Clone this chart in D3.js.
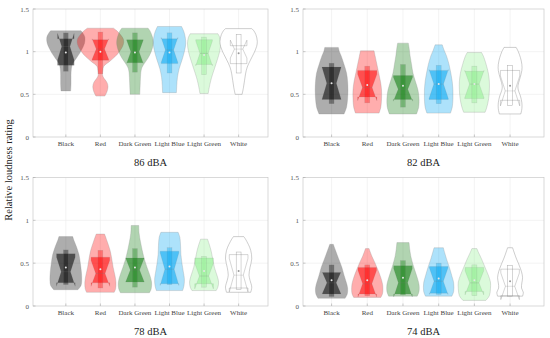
<!DOCTYPE html>
<html>
<head>
<meta charset="utf-8">
<script src="https://cdn.jsdelivr.net/npm/d3@7"></script>
<style>
  body { margin: 0; background: #fff; }
  svg text { font-family: "Liberation Serif", "Times New Roman", serif; }
</style>
</head>
<body>
<div id="chart"></div>
<script>
const categories = ['Black', 'Red', 'Dark Green', 'Light Blue', 'Light Green', 'White'];
const panelTitles = ['86 dBA', '82 dBA', '78 dBA', '74 dBA'];
const yTicks = [0, 0.5, 1, 1.5];
const yLabel = 'Relative loudness rating';

// violin outlines, bottom to top: [rating, half width in category units]
const violin86 = [
  [[0.54, 0.14], [0.62, 0.15], [0.72, 0.15], [0.8, 0.16], [0.86, 0.2], [0.92, 0.3], [0.98, 0.4], [1.04, 0.48], [1.1, 0.54], [1.17, 0.55], [1.22, 0.49], [1.245, 0.44]],
  [[0.48, 0.13], [0.53, 0.19], [0.59, 0.22], [0.64, 0.19], [0.69, 0.1], [0.73, 0.06], [0.78, 0.07], [0.83, 0.1], [0.88, 0.25], [0.94, 0.42], [1.0, 0.55], [1.08, 0.66], [1.14, 0.67], [1.2, 0.58], [1.25, 0.46], [1.275, 0.38]],
  [[0.5, 0.14], [0.6, 0.15], [0.7, 0.16], [0.8, 0.19], [0.86, 0.27], [0.92, 0.37], [1.0, 0.47], [1.1, 0.53], [1.18, 0.5], [1.24, 0.44], [1.275, 0.38]],
  [[0.52, 0.2], [0.6, 0.21], [0.7, 0.23], [0.8, 0.28], [0.9, 0.36], [1.0, 0.43], [1.1, 0.47], [1.2, 0.44], [1.25, 0.4], [1.295, 0.35]],
  [[0.51, 0.12], [0.56, 0.14], [0.62, 0.17], [0.7, 0.22], [0.8, 0.3], [0.9, 0.38], [1.0, 0.45], [1.1, 0.48], [1.17, 0.45], [1.21, 0.4]],
  [[0.5, 0.1], [0.58, 0.14], [0.66, 0.17], [0.74, 0.2], [0.82, 0.25], [0.9, 0.34], [0.98, 0.44], [1.06, 0.52], [1.12, 0.54], [1.2, 0.5], [1.25, 0.43], [1.27, 0.38]],
];
const violin82 = [
  [[0.27, 0.35], [0.35, 0.42], [0.45, 0.45], [0.55, 0.46], [0.65, 0.45], [0.75, 0.42], [0.85, 0.35], [0.95, 0.27], [1.0, 0.22], [1.05, 0.19]],
  [[0.28, 0.33], [0.35, 0.38], [0.45, 0.4], [0.55, 0.4], [0.65, 0.37], [0.75, 0.32], [0.85, 0.27], [0.95, 0.22], [1.01, 0.19]],
  [[0.27, 0.38], [0.35, 0.44], [0.45, 0.45], [0.55, 0.42], [0.65, 0.35], [0.75, 0.28], [0.85, 0.24], [0.95, 0.2], [1.05, 0.17], [1.1, 0.15]],
  [[0.28, 0.33], [0.35, 0.38], [0.45, 0.4], [0.55, 0.4], [0.65, 0.38], [0.75, 0.34], [0.85, 0.29], [0.95, 0.22], [1.02, 0.15], [1.08, 0.1]],
  [[0.29, 0.3], [0.35, 0.35], [0.45, 0.4], [0.55, 0.42], [0.65, 0.42], [0.75, 0.39], [0.85, 0.33], [0.95, 0.25], [0.99, 0.2]],
  [[0.27, 0.3], [0.33, 0.33], [0.4, 0.33], [0.48, 0.29], [0.55, 0.23], [0.6, 0.22], [0.68, 0.27], [0.78, 0.33], [0.85, 0.33], [0.93, 0.29], [1.0, 0.23], [1.05, 0.17]],
];
const violin78 = [
  [[0.19, 0.35], [0.24, 0.44], [0.3, 0.46], [0.4, 0.45], [0.5, 0.42], [0.6, 0.38], [0.7, 0.3], [0.77, 0.23], [0.81, 0.2]],
  [[0.16, 0.4], [0.2, 0.44], [0.28, 0.45], [0.36, 0.42], [0.45, 0.37], [0.55, 0.33], [0.65, 0.28], [0.75, 0.2], [0.84, 0.12]],
  [[0.155, 0.42], [0.2, 0.47], [0.28, 0.48], [0.36, 0.43], [0.45, 0.35], [0.55, 0.27], [0.65, 0.21], [0.75, 0.16], [0.85, 0.12], [0.94, 0.11]],
  [[0.18, 0.38], [0.24, 0.42], [0.32, 0.43], [0.4, 0.4], [0.5, 0.36], [0.6, 0.33], [0.7, 0.32], [0.8, 0.3], [0.86, 0.25]],
  [[0.18, 0.35], [0.22, 0.4], [0.28, 0.42], [0.35, 0.38], [0.45, 0.3], [0.55, 0.25], [0.65, 0.2], [0.72, 0.15], [0.78, 0.1]],
  [[0.16, 0.35], [0.22, 0.38], [0.3, 0.33], [0.36, 0.3], [0.45, 0.33], [0.55, 0.38], [0.65, 0.35], [0.72, 0.28], [0.78, 0.2], [0.81, 0.15]],
];
const violin74 = [
  [[0.09, 0.38], [0.14, 0.44], [0.21, 0.45], [0.28, 0.41], [0.36, 0.35], [0.45, 0.29], [0.55, 0.2], [0.65, 0.11], [0.72, 0.05]],
  [[0.1, 0.38], [0.15, 0.43], [0.25, 0.43], [0.33, 0.38], [0.42, 0.3], [0.5, 0.22], [0.58, 0.13], [0.67, 0.05]],
  [[0.115, 0.4], [0.17, 0.45], [0.25, 0.45], [0.33, 0.4], [0.42, 0.33], [0.5, 0.27], [0.58, 0.22], [0.66, 0.19], [0.74, 0.17]],
  [[0.115, 0.37], [0.17, 0.42], [0.27, 0.42], [0.35, 0.37], [0.45, 0.3], [0.55, 0.22], [0.62, 0.17], [0.68, 0.13]],
  [[0.065, 0.32], [0.12, 0.42], [0.2, 0.45], [0.28, 0.45], [0.36, 0.39], [0.45, 0.3], [0.55, 0.2], [0.62, 0.12], [0.67, 0.07]],
  [[0.115, 0.35], [0.16, 0.37], [0.21, 0.32], [0.27, 0.33], [0.33, 0.35], [0.4, 0.32], [0.48, 0.25], [0.56, 0.17], [0.63, 0.11], [0.68, 0.07]],
];

// box stats: [whiskerLo, q1, notchLo, median, notchHi, q3, whiskerHi, mean]
const box86 = [
  [0.77, 0.84, 0.905, 1.06, 1.215, 1.15, 1.22, 0.99],
  [0.74, 0.9, 0.91, 1.03, 1.15, 1.14, 1.23, 1.0],
  [0.76, 0.87, 0.865, 1.0, 1.135, 1.14, 1.22, 0.99],
  [0.75, 0.86, 0.875, 1.02, 1.165, 1.15, 1.22, 0.99],
  [0.73, 0.85, 0.835, 0.98, 1.125, 1.14, 1.17, 0.96],
  [0.75, 0.86, 0.925, 1.03, 1.135, 1.07, 1.2, 0.98],
];
const box82 = [
  [0.39, 0.44, 0.44, 0.63, 0.82, 0.82, 0.865, 0.63],
  [0.4, 0.47, 0.425, 0.58, 0.735, 0.78, 0.83, 0.61],
  [0.35, 0.44, 0.42, 0.56, 0.7, 0.72, 0.85, 0.6],
  [0.39, 0.44, 0.45, 0.62, 0.79, 0.78, 0.84, 0.62],
  [0.4, 0.45, 0.46, 0.62, 0.78, 0.77, 0.83, 0.62],
  [0.37, 0.43, 0.365, 0.54, 0.715, 0.78, 0.84, 0.6],
];
const box78 = [
  [0.25, 0.27, 0.23, 0.4, 0.57, 0.61, 0.655, 0.45],
  [0.21, 0.27, 0.23, 0.38, 0.53, 0.57, 0.65, 0.43],
  [0.22, 0.28, 0.28, 0.42, 0.56, 0.56, 0.67, 0.45],
  [0.25, 0.26, 0.24, 0.43, 0.62, 0.64, 0.68, 0.46],
  [0.22, 0.26, 0.2, 0.35, 0.5, 0.56, 0.58, 0.41],
  [0.19, 0.21, 0.165, 0.36, 0.555, 0.6, 0.63, 0.41],
];
const box74 = [
  [0.11, 0.14, 0.145, 0.27, 0.395, 0.39, 0.48, 0.3],
  [0.12, 0.14, 0.105, 0.26, 0.415, 0.45, 0.48, 0.3],
  [0.13, 0.14, 0.105, 0.27, 0.435, 0.47, 0.53, 0.33],
  [0.135, 0.15, 0.135, 0.29, 0.445, 0.46, 0.5, 0.32],
  [0.12, 0.17, 0.13, 0.27, 0.41, 0.45, 0.48, 0.3],
  [0.115, 0.12, 0.075, 0.23, 0.385, 0.43, 0.47, 0.29],
];

const violins = [violin86, violin82, violin78, violin74];
const boxes = [box86, box82, box78, box74];

const colors = ['#000000', '#ff0000', '#0b7a0b', '#00a6f2', '#8fee8f', '#ffffff'];
const colX = [[33, 268], [303, 544]];
const colDomain = [[0.05, 6.85], [0.2, 6.95]];
const rowY = [[9, 137], [177.5, 306]];
const boxHalf = [0.24, 0.27, 0.27, 0.26];
const whiskerHalf = 0.07;

const svg = d3.select('#chart')
  .append('svg')
  .attr('width', 550)
  .attr('height', 338);

// shared y label
svg.append('text')
  .attr('transform', 'translate(12,170) rotate(-90)')
  .attr('text-anchor', 'middle')
  .attr('font-size', 10.5)
  .attr('fill', '#222')
  .text(yLabel);

panelTitles.forEach((title, p) => {
  const col = p % 2;
  const row = Math.floor(p / 2);
  const x = d3.scaleLinear().domain(colDomain[col]).range(colX[col]);
  const y = d3.scaleLinear().domain([0, 1.5]).range([rowY[row][1], rowY[row][0]]);
  const unit = x(1) - x(0);
  const g = svg.append('g');

  // grid
  g.selectAll('line.hgrid')
    .data(yTicks.slice(1, -1))
    .enter()
    .append('line')
    .attr('x1', colX[col][0]).attr('x2', colX[col][1])
    .attr('y1', d => y(d)).attr('y2', d => y(d))
    .attr('stroke', '#ebebeb').attr('stroke-width', 0.6);
  g.selectAll('line.vgrid')
    .data(categories)
    .enter()
    .append('line')
    .attr('x1', (d, i) => x(i + 1)).attr('x2', (d, i) => x(i + 1))
    .attr('y1', y(0)).attr('y2', y(1.5))
    .attr('stroke', '#ebebeb').attr('stroke-width', 0.6);

  // axes box
  g.append('rect')
    .attr('x', colX[col][0]).attr('y', y(1.5))
    .attr('width', colX[col][1] - colX[col][0])
    .attr('height', y(0) - y(1.5))
    .attr('fill', 'none').attr('stroke', '#c9c9c9').attr('stroke-width', 0.7);

  // inward ticks
  g.selectAll('line.ytick')
    .data(yTicks)
    .enter()
    .append('line')
    .attr('x1', colX[col][0]).attr('x2', colX[col][0] + 2.5)
    .attr('y1', d => y(d)).attr('y2', d => y(d))
    .attr('stroke', '#aaa').attr('stroke-width', 0.6);
  g.selectAll('line.xtick')
    .data(categories)
    .enter()
    .append('line')
    .attr('x1', (d, i) => x(i + 1)).attr('x2', (d, i) => x(i + 1))
    .attr('y1', y(0)).attr('y2', y(0) - 2.5)
    .attr('stroke', '#aaa').attr('stroke-width', 0.6);

  g.selectAll('text.ylab')
    .data(yTicks)
    .enter()
    .append('text')
    .attr('x', colX[col][0] - 4)
    .attr('y', d => y(d) + 2.5)
    .attr('text-anchor', 'end')
    .attr('font-size', 7)
    .attr('fill', '#555')
    .text(d => d3.format('~g')(d));

  g.selectAll('text.xlab')
    .data(categories)
    .enter()
    .append('text')
    .attr('x', (d, i) => x(i + 1))
    .attr('y', y(0) + 9)
    .attr('text-anchor', 'middle')
    .attr('font-size', 7)
    .attr('fill', '#444')
    .text(d => d);

  g.append('text')
    .attr('x', (colX[col][0] + colX[col][1]) / 2)
    .attr('y', y(0) + 29)
    .attr('text-anchor', 'middle')
    .attr('font-size', 10.5)
    .attr('fill', '#222')
    .text(title);

  // violins, boxes, whiskers
  violins[p].forEach((shape, i) => {
    const cx = x(i + 1);
    const color = colors[i];
    const isWhite = i === 5;
    const area = d3.area()
      .curve(d3.curveCatmullRom.alpha(0.5))
      .y(d => y(d[0]))
      .x0(d => cx - d[1] * unit)
      .x1(d => cx + d[1] * unit);
    g.append('path')
      .attr('d', area(shape))
      .attr('fill', color)
      .attr('fill-opacity', isWhite ? 1 : 0.32)
      .attr('stroke', '#8a8a8a')
      .attr('stroke-opacity', isWhite ? 0.7 : 0.45)
      .attr('stroke-width', 0.6);

    const [wlo, q1, nlo, med, nhi, q3, whi, mean] = boxes[p][i];
    const b = boxHalf[p] * unit;
    const pts = [
      [cx - b, q1], [cx - b, nlo], [cx - b / 2, med], [cx - b, nhi], [cx - b, q3],
      [cx + b, q3], [cx + b, nhi], [cx + b / 2, med], [cx + b, nlo], [cx + b, q1],
    ];
    g.append('path')
      .attr('d', d3.line().x(d => d[0]).y(d => y(d[1]))(pts) + 'Z')
      .attr('fill', color)
      .attr('fill-opacity', isWhite ? 0 : 0.55)
      .attr('stroke', '#777')
      .attr('stroke-opacity', isWhite ? 0.6 : 0.25)
      .attr('stroke-width', 0.5);

    const w = whiskerHalf * unit;
    g.append('rect')
      .attr('x', cx - w).attr('width', 2 * w)
      .attr('y', y(whi)).attr('height', y(wlo) - y(whi))
      .attr('fill', color)
      .attr('fill-opacity', isWhite ? 0 : 0.35)
      .attr('stroke', '#777')
      .attr('stroke-opacity', isWhite ? 0.6 : 0.25)
      .attr('stroke-width', 0.5);

    g.append('line')
      .attr('x1', cx - b / 2).attr('x2', cx + b / 2)
      .attr('y1', y(med)).attr('y2', y(med))
      .attr('stroke', '#777').attr('stroke-opacity', 0.4).attr('stroke-width', 0.5);

    g.append('circle')
      .attr('cx', cx).attr('cy', y(mean)).attr('r', 1)
      .attr('fill', isWhite ? '#999' : '#e6e6e6');
  });
});
</script>
</body>
</html>
